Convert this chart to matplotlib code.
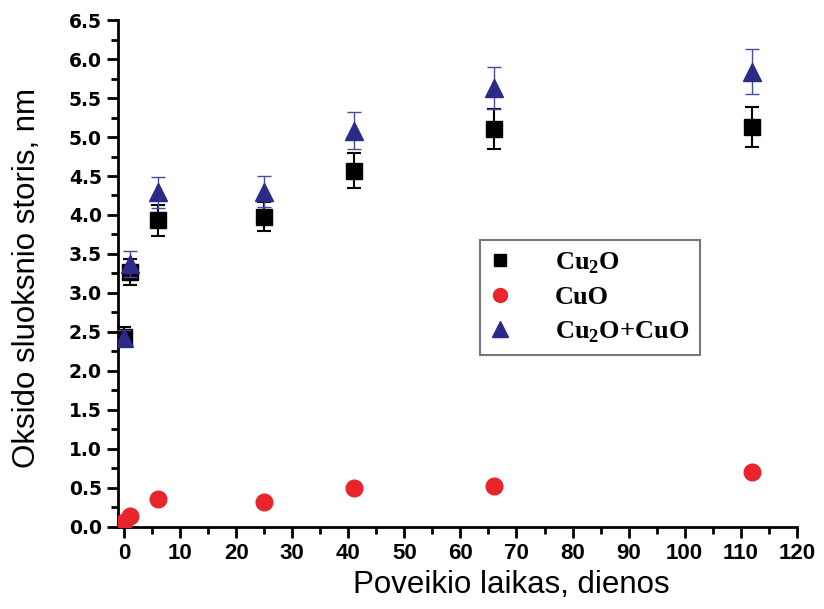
import matplotlib
matplotlib.use("Agg")
import matplotlib.pyplot as plt
from matplotlib.lines import Line2D
from matplotlib.ticker import MultipleLocator

# data
days = [0, 1, 6, 25, 41, 66, 112]
cu2o = [2.44, 3.27, 3.93, 3.98, 4.57, 5.10, 5.13]
cu2o_err = [0.12, 0.17, 0.20, 0.19, 0.23, 0.26, 0.26]
cuo = [0.06, 0.14, 0.36, 0.32, 0.50, 0.52, 0.70]
total = [2.42, 3.37, 4.29, 4.30, 5.08, 5.63, 5.84]
total_err = [0.10, 0.17, 0.20, 0.20, 0.24, 0.27, 0.29]

c_sq, c_ci, c_tri = "black", "#e8242c", "#2c2a88"

plt.rcParams["mathtext.fontset"] = "custom"
plt.rcParams["mathtext.rm"] = "Liberation Serif:bold"
plt.rcParams["mathtext.bf"] = "Liberation Serif:bold"

fig = plt.figure(figsize=(8.24, 6.09), dpi=100)
ax = fig.add_axes([0.143, 0.135, 0.824, 0.832])

ax.errorbar(days, cu2o, yerr=cu2o_err, fmt="s", color=c_sq, ms=11,
            ecolor=c_sq, elinewidth=1.5, capsize=5, capthick=1.5, zorder=3)
ax.plot(days, cuo, "o", color=c_ci, ms=12, zorder=3)
ax.errorbar(days, total, yerr=total_err, fmt="^", color=c_tri, ms=13,
            ecolor="#4a4a9a", elinewidth=1.0, capsize=5, capthick=1.0, zorder=4)

ax.set_xlim(-1.1, 120)
ax.set_ylim(0, 6.5)
ax.xaxis.set_major_locator(MultipleLocator(10))
ax.xaxis.set_minor_locator(MultipleLocator(5))
ax.yaxis.set_major_locator(MultipleLocator(0.5))
ax.yaxis.set_minor_locator(MultipleLocator(0.25))
ax.yaxis.set_major_formatter(plt.FormatStrFormatter("%.1f"))

for s in ["top", "right"]:
    ax.spines[s].set_visible(False)
for s in ["left", "bottom"]:
    ax.spines[s].set_linewidth(2)

ax.tick_params(which="major", length=8, width=2, direction="out")
ax.tick_params(which="minor", length=5, width=2, direction="out")
for lab in ax.get_xticklabels():
    lab.set_family("Liberation Sans")
    lab.set_fontweight("bold")
    lab.set_fontsize(16)
for lab in ax.get_yticklabels():
    lab.set_family("DejaVu Sans")
    lab.set_fontweight("bold")
    lab.set_fontsize(13.5)

ax.set_xlabel("Poveikio laikas, dienos", fontsize=22.5,
              family="Liberation Sans")
ax.xaxis.set_label_coords(0.58, -0.085)
ax.set_ylabel("Oksido sluoksnio storis, nm", fontsize=22.5,
              family="Liberation Sans")
ax.yaxis.set_label_coords(-0.112, 0.491)

handles = [
    Line2D([], [], ls="none", marker="s", color=c_sq, ms=8),
    Line2D([], [], ls="none", marker="o", color=c_ci, ms=10),
    Line2D([], [], ls="none", marker="^", color=c_tri, ms=11),
]
labels = ["Cu$_\\mathbf{2}$O", "CuO", "Cu$_\\mathbf{2}$O+CuO"]
leg = ax.legend(handles, labels, loc="upper left",
                bbox_to_anchor=(0.533, 0.566), frameon=True, fancybox=False,
                edgecolor="#555555", handletextpad=1.7, borderpad=0.4,
                labelspacing=0.37, handlelength=0.75, borderaxespad=0,
                prop={"family": "Liberation Serif", "weight": "bold", "size": 19})
leg.get_frame().set_linewidth(1.5)

plt.savefig("out.png", dpi=100)
plt.close()
